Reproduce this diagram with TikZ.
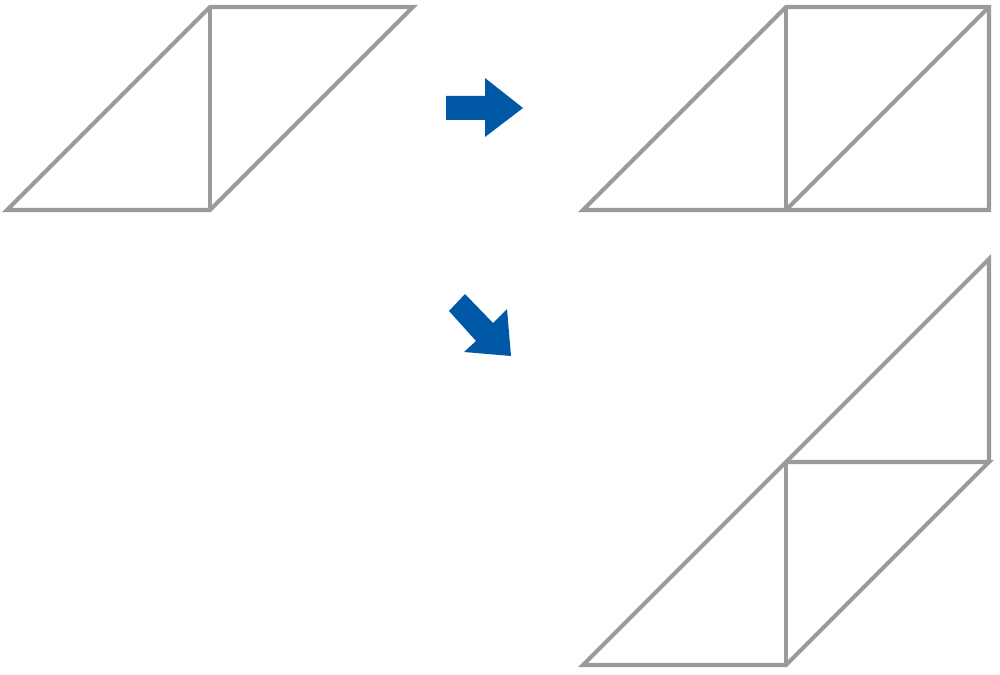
\documentclass[tikz,border=0pt]{standalone}
\usepackage{tikz}
\definecolor{edgegray}{RGB}{152,154,155}
\definecolor{arrowblue}{RGB}{0,88,166}
\begin{document}
\begin{tikzpicture}[x=0.02cm,y=-0.02cm]
		\tikzstyle{piece}=[edgegray, line width=2.3pt, line join=miter]
		\tikzstyle{turn}=[fill=arrowblue, draw=none]
		\useasboundingbox (0,0) rectangle (1000,675);
		% start shape
		\draw [piece] (7,210) -- (210,7) -- (413,7) -- (210,210) -- cycle;
		\draw [piece] (210,7) -- (210,210);
		% right: triangle and square
		\draw [piece] (583,210) -- (786,7) -- (989,7) -- (989,210) -- cycle;
		\draw [piece] (786,7) -- (786,210);
		\draw [piece] (786,210) -- (989,7);
		% below: triangle on top of the shape
		\draw [piece] (583,665) -- (786,462) -- (989,462) -- (786,665) -- cycle;
		\draw [piece] (786,462) -- (786,665);
		\draw [piece] (786,462) -- (989,259) -- (989,462);
		% arrows
		\fill [turn] (446,96) -- (485,96) -- (485,78) -- (523,108) -- (485,137) -- (485,120) -- (446,120) -- cycle;
		\fill [turn] (449,311) -- (465,294) -- (493,323) -- (507,309) -- (511,356) -- (464,352) -- (476,341) -- cycle;
	\end{tikzpicture}
\end{document}
